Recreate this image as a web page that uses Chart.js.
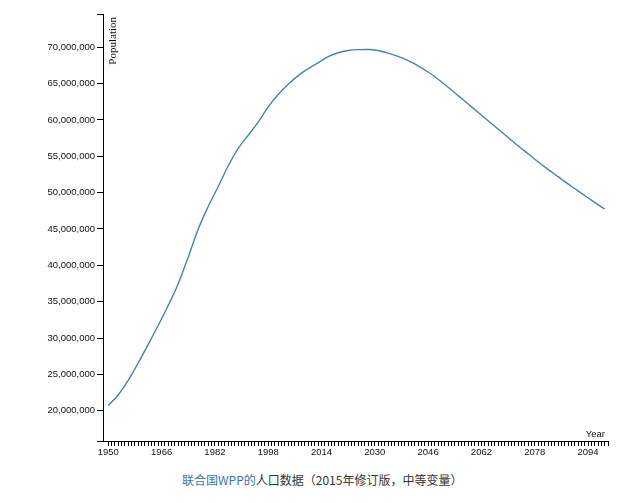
<!DOCTYPE html>
<html>
<head>
<meta charset="utf-8">
<script src="https://cdn.jsdelivr.net/npm/chart.js@4/dist/chart.umd.min.js"></script>
<style>
  body { margin: 0; background: #fff; }
  #wrap { position: relative; width: 640px; height: 503px; }
  #box { position: absolute; left: 0; top: 0; width: 640px; height: 460px; }
  #caption {
    position: absolute; left: 182px; top: 471px;
    font: 12px "Noto Sans CJK SC", sans-serif; color: #333; white-space: nowrap;
  }
  #caption a { color: #3b73b9; text-decoration: none; }
</style>
</head>
<body>
<div id="wrap">
  <div id="box"><canvas id="chart"></canvas></div>
  <div id="caption"><a href="#">联合国WPP的</a>人口数据（2015年修订版，中等变量）</div>
</div>
<script>
// years and population
const years = [1950, 1953, 1956, 1959, 1962, 1965, 1968, 1971, 1974, 1977,
  1980, 1983, 1986, 1989, 1992, 1995, 1998, 2001, 2004, 2007,
  2010, 2013, 2016, 2019, 2022, 2025, 2028, 2031, 2034, 2037,
  2040, 2043, 2046, 2049, 2052, 2055, 2058, 2061, 2064, 2067,
  2070, 2073, 2076, 2079, 2082, 2085, 2088, 2091, 2094, 2097, 2099];
const population = [20.7, 22.2, 24.2, 26.6, 29.15, 31.75, 34.5, 37.5, 41.15, 45.0,
  48.1, 50.85, 53.7, 56.1, 57.9, 59.7, 61.8, 63.5, 64.9, 66.1,
  67.05, 67.9, 68.7, 69.25, 69.55, 69.68, 69.7, 69.55, 69.2, 68.75,
  68.15, 67.45, 66.6, 65.6, 64.5, 63.35, 62.2, 61.05, 59.9, 58.75,
  57.6, 56.45, 55.35, 54.25, 53.2, 52.2, 51.2, 50.25, 49.3, 48.35, 47.75].map(v => v * 1e6);
const yTicks = [20e6, 25e6, 30e6, 35e6, 40e6, 45e6, 50e6, 55e6, 60e6, 65e6, 70e6];
const labelYears = [1950, 1966, 1982, 1998, 2014, 2030, 2046, 2062, 2078, 2094];

const xMin = 1948.4, xMax = 2100;
const yMin = 15.83e6, yMax = 74.58e6;

Chart.defaults.font.family = '"Liberation Sans", Arial, sans-serif';
Chart.defaults.font.size = 9.5;
Chart.defaults.color = '#111';

// axis titles drawn the way the reference places them
const axisTitles = {
  id: 'axisTitles',
  afterDraw(chart) {
    const { ctx, chartArea } = chart;
    ctx.save();
    ctx.fillStyle = '#111';
    ctx.font = '9.5px "Liberation Sans", Arial, sans-serif';
    ctx.textAlign = 'right';
    ctx.textBaseline = 'alphabetic';
    ctx.fillText('Year', chartArea.right - 3, chartArea.bottom - 4);

    ctx.font = '11px "Liberation Serif", "Times New Roman", serif';
    ctx.translate(chartArea.left + 13, chartArea.top + 3);
    ctx.rotate(-Math.PI / 2);
    ctx.fillText('Population', 0, 0);
    ctx.restore();
  }
};

new Chart(document.getElementById('chart'), {
  type: 'line',
  data: {
    datasets: [{
      data: years.map((y, i) => ({ x: y, y: population[i] })),
      borderColor: '#4682b4',
      borderWidth: 1.4,
      pointRadius: 0,
      fill: false,
      cubicInterpolationMode: 'monotone'
    }]
  },
  options: {
    responsive: true,
    maintainAspectRatio: false,
    animation: false,
    layout: { padding: { left: 0, right: 32, top: 14, bottom: 0 } },
    plugins: { legend: { display: false }, tooltip: { enabled: false } },
    scales: {
      x: {
        type: 'linear',
        min: xMin,
        max: xMax,
        afterBuildTicks: (axis) => {
          const t = [];
          for (let y = 1950; y <= 2100; y++) t.push({ value: y });
          axis.ticks = t;
        },
        afterFit: (scale) => { scale.height = 19; },
        ticks: {
          autoSkip: false,
          maxRotation: 0,
          padding: 1,
          callback: (v) => labelYears.includes(v) ? String(v) : ''
        },
        grid: { drawOnChartArea: false, drawTicks: true, tickLength: 5, color: '#000' },
        border: { display: true, color: '#000', width: 1 }
      },
      y: {
        min: yMin,
        max: yMax,
        afterBuildTicks: (axis) => {
          axis.ticks = [yMin, ...yTicks, yMax].map(v => ({ value: v }));
        },
        afterFit: (scale) => { scale.width = 103; },
        ticks: {
          autoSkip: false,
          padding: 2,
          callback: (v) => yTicks.includes(v) ? v.toLocaleString('en-US') : ''
        },
        grid: { drawOnChartArea: false, drawTicks: true, tickLength: 6, color: '#000' },
        border: { display: true, color: '#000', width: 1 }
      }
    }
  },
  plugins: [axisTitles]
});
</script>
</body>
</html>
